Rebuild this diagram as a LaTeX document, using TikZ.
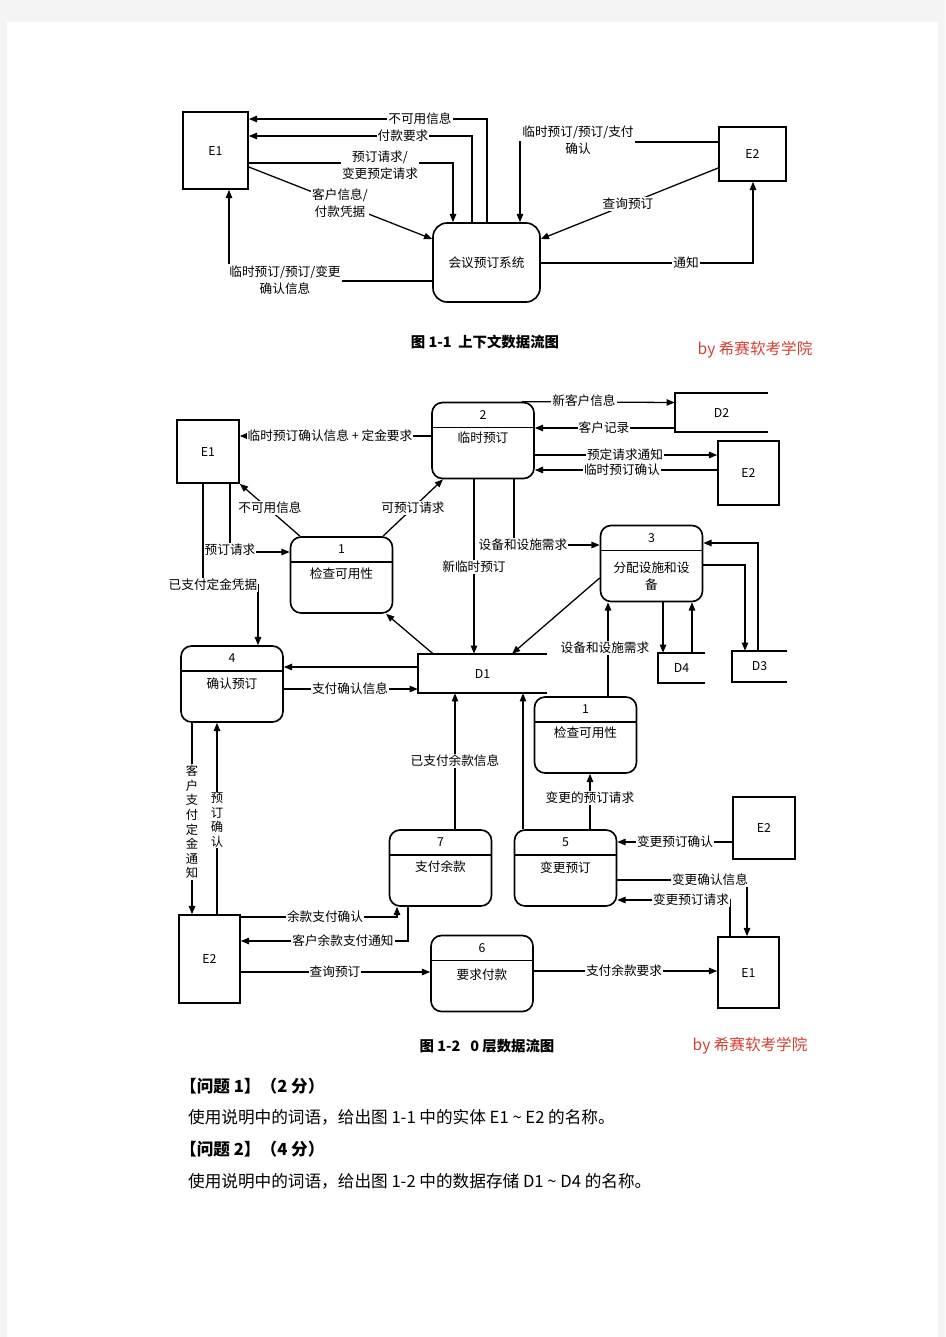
\documentclass[tikz,border=0pt]{standalone}
\usepackage{fontspec}
\setmainfont{Noto Sans CJK SC}
\usetikzlibrary{arrows.meta,calc,positioning}
\definecolor{wmred}{RGB}{214,64,52}
\definecolor{pagegray}{RGB}{244,244,244}

\begin{document}
\begin{tikzpicture}[x=0.03cm,y=-0.03cm,
    arr/.style={line width=1.1pt,-{Triangle[length=7pt,width=5.5pt]}},
    box/.style={line width=1.4pt},
    ent/.style={draw,line width=1.4pt,inner sep=0pt,font=\fontsize{10.5}{12}\selectfont},
    store/.style={inner sep=0pt,font=\fontsize{10.5}{12}\selectfont},
    proc/.style={draw,line width=1.4pt,rounded corners=9pt,minimum width=3.06cm,minimum height=2.28cm,
        path picture={\draw[line width=1.4pt] ([yshift=-0.75cm]path picture bounding box.north west)
            -- ([yshift=-0.75cm]path picture bounding box.north east);}},
    pnum/.style={inner sep=0pt,font=\fontsize{10.5}{12}\selectfont},
    pname/.style={anchor=north,inner sep=1pt,align=center,font=\fontsize{10.8}{14.5}\selectfont},
    lbl/.style={fill=white,inner sep=1pt,align=center,font=\fontsize{10.8}{14.5}\selectfont},
    vlbl/.style={fill=white,inner sep=1pt,align=center,font=\fontsize{10.5}{12.4}\selectfont},
    figcap/.style={font=\fontsize{12.3}{14}\selectfont\bfseries},
    wm/.style={text=wmred,font=\fontsize{13.3}{15}\selectfont},
    qhead/.style={anchor=west,font=\fontsize{14.2}{16}\selectfont\bfseries},
    qtext/.style={anchor=west,font=\fontsize{14.2}{16}\selectfont}]

    \fill[pagegray] (0,0) rectangle (945,1337);
    \fill[white] (7,22) rectangle (938,1337);
    \useasboundingbox (0,0) rectangle (945,1337);

    % figure 1-1
    \node[ent,minimum width=1.95cm,minimum height=2.31cm] (E1) at (215.5,150.5) {E1};
    \node[ent,minimum width=2.01cm,minimum height=1.62cm] (E2) at (752.5,154) {E2};
    \node[draw,box,rounded corners=12pt,minimum width=3.21cm,minimum height=2.37cm,
          font=\fontsize{10.8}{14}\selectfont] (sys) at (486.5,262.5) {会议预订系统};

    \draw[arr] (sys.north -| 487,0) |- (E1.east |- 0,119);
    \draw[arr] (sys.north -| 472,0) |- (E1.east |- 0,136);
    \draw[arr] (E1.east |- 0,163) -| (sys.north -| 453,0);
    \draw[arr] (E1.east |- 0,167) -- (sys.west |- 0,239);
    \draw[arr] (sys.west |- 0,281) -| (E1.south -| 229,0);
    \draw[arr] (E2.west |- 0,142) -| (sys.north -| 520,0);
    \draw[arr] (E2.west |- 0,168) -- (sys.east |- 0,239);
    \draw[arr] (sys.east |- 0,263) -| (E2.south -| 753,0);

    \node[lbl] (unavail) at (420,119) {不可用信息};
    \node[lbl] (payreq) at (403,136) {付款要求};
    \node[lbl] (bookreq) at (380,165) {预订请求/\\变更预定请求};
    \node[lbl] (custinfo) at (340,203) {客户信息/\\付款凭据};
    \node[lbl] (confinfo) at (285,280) {临时预订/预订/变更\\确认信息};
    \node[lbl] (payconf) at (578,140) {临时预订/预订/支付\\确认};
    \node[lbl] (query) at (628,204) {查询预订};
    \node[lbl] (notify) at (686,263) {通知};

    \node[figcap] (cap1) at (485,342) {图 1-1\ \ 上下文数据流图};
    \node[wm] (wm1) at (755,350) {by 希赛软考学院};

    % figure 1-2
    \node[ent,minimum width=1.86cm,minimum height=1.89cm] (E1u) at (208,451.5) {E1};
    \node[ent,minimum width=1.83cm,minimum height=1.92cm] (E2u) at (748.5,473) {E2};
    \node[ent,minimum width=1.86cm,minimum height=1.86cm] (E2m) at (764,828) {E2};
    \node[ent,minimum width=1.83cm,minimum height=2.64cm] (E2d) at (209.5,959) {E2};
    \node[ent,minimum width=1.83cm,minimum height=2.13cm] (E1d) at (748.5,972.5) {E1};

    \node[proc] (p2) at (483,440.5) {};
    \node[pnum] (p2n) at ($(p2.north)+(0,13)$) {2};
    \node[pname] (p2t) at ($(p2.north)+(0,29)$) {临时预订};
    \node[proc] (p3) at (651.5,563.5) {};
    \node[pnum] (p3n) at ($(p3.north)+(0,13)$) {3};
    \node[pname] (p3t) at ($(p3.north)+(0,36)$) {分配设施和设\\备};
    \node[proc] (p1a) at (341.5,575) {};
    \node[pnum] (p1an) at ($(p1a.north)+(0,13)$) {1};
    \node[pname] (p1at) at ($(p1a.north)+(0,30)$) {检查可用性};
    \node[proc] (p4) at (232,684) {};
    \node[pnum] (p4n) at ($(p4.north)+(0,13)$) {4};
    \node[pname] (p4t) at ($(p4.north)+(0,31)$) {确认预订};
    \node[proc] (p1b) at (585.5,735) {};
    \node[pnum] (p1bn) at ($(p1b.north)+(0,13)$) {1};
    \node[pname] (p1bt) at ($(p1b.north)+(0,29)$) {检查可用性};
    \node[proc] (p7) at (440.5,868) {};
    \node[pnum] (p7n) at ($(p7.north)+(0,13)$) {7};
    \node[pname] (p7t) at ($(p7.north)+(0,30)$) {支付余款};
    \node[proc] (p5) at (565.5,868) {};
    \node[pnum] (p5n) at ($(p5.north)+(0,13)$) {5};
    \node[pname] (p5t) at ($(p5.north)+(0,31)$) {变更预订};
    \node[proc] (p6) at (482,973.5) {};
    \node[pnum] (p6n) at ($(p6.north)+(0,13)$) {6};
    \node[pname] (p6t) at ($(p6.north)+(0,33)$) {要求付款};

    \node[store,minimum width=2.79cm,minimum height=1.17cm] (D2) at (721.5,412.5) {D2};
    \node[store,minimum width=3.87cm,minimum height=1.17cm] (D1) at (482.5,673.5) {D1};
    \node[store,minimum width=1.41cm,minimum height=0.9cm] (D4) at (681.5,668) {D4};
    \node[store,minimum width=1.65cm,minimum height=0.93cm] (D3) at (759.5,666.5) {D3};
    \draw[box] (D2.north east) -- (D2.north west) -- (D2.south west) -- (D2.south east);
    \draw[box] (D1.north east) -- (D1.north west) -- (D1.south west) -- (D1.south east);
    \draw[box] (D4.north east) -- (D4.north west) -- (D4.south west) -- (D4.south east);
    \draw[box] (D3.north east) -- (D3.north west) -- (D3.south west) -- (D3.south east);

    \draw[arr] (p2.west |- 0,436) -- (E1u.east |- 0,436);
    \draw[arr] (p2.north -| 522,0) -- (D2.west |- 0,402.5);
    \draw[arr] (D2.west |- 0,428) -- (p2.east |- 0,428);
    \draw[arr] (p2.east |- 0,455) -- (E2u.west |- 0,455);
    \draw[arr] (E2u.west |- 0,470) -- (p2.east |- 0,470);
    \draw[arr] (p2.south -| 474,0) -- (D1.north -| 474,0);
    \draw[arr] (p2.south -| 514,0) |- (p3.west |- 0,545);
    \draw[arr] (p3.west |- 0,578) -- (D1.north -| 512,0);
    \draw[arr] (p1b.north -| 608,0) -- (p3.south -| 608,0);
    \draw[arr] (p3.south -| 663,0) -- (D4.north -| 663,0);
    \draw[arr] (D4.north -| 692,0) -- (p3.south -| 692,0);
    \draw[arr] (p3.east |- 0,565) -| (D3.north -| 745,0);
    \draw[arr] (D3.north -| 758,0) |- (p3.east |- 0,543);
    \draw[arr] (D1.north -| 433,0) -- (p1a.south -| 386,0);
    \draw[arr] (D1.west |- 0,667) -- (p4.east |- 0,667);
    \draw[arr] (p4.east |- 0,689) -- (D1.west |- 0,689);
    \draw[arr] (E1u.south -| 230,0) |- (p1a.west |- 0,552);
    \draw[arr] (p1a.north -| 300,0) -- (E1u.south east);
    \draw[arr] (p1a.north -| 383,0) -- (p2.south -| 443,0);
    \draw[arr] (E1u.south -| 203,0) -- (203,585) -| (p4.north -| 258,0);
    \draw[arr] (p4.south -| 192,0) -- (E2d.north -| 192,0);
    \draw[arr] (E2d.north -| 217,0) -- (p4.south -| 217,0);
    \draw[arr] (p7.north -| 455,0) -- (D1.south -| 455,0);
    \draw[arr] (p5.north -| 523,0) -- (D1.south -| 523,0);
    \draw[arr] (p5.north -| 590,0) -- (p1b.south -| 590,0);
    \draw[arr] (E2m.west |- 0,842) -- (p5.east |- 0,842);
    \draw[arr] (p5.east |- 0,880) -| (E1d.north -| 747,0);
    \draw[arr] (E1d.north -| 730,0) |- (p5.east |- 0,900);
    \draw[arr] (E2d.east |- 0,917) -| (p7.south -| 397,0);
    \draw[arr] (p7.south -| 408,0) |- (E2d.east |- 0,941);
    \draw[arr] (E2d.east |- 0,972) -- (p6.west |- 0,972);
    \draw[arr] (p6.east |- 0,971) -- (E1d.west |- 0,971);

    \node[lbl] (tmpconf) at (330,436) {临时预订确认信息 + 定金要求};
    \node[lbl] (newcust) at (584,401) {新客户信息};
    \node[lbl] (custrec) at (604,428) {客户记录};
    \node[lbl] (reqnote) at (625,455) {预定请求通知};
    \node[lbl] (tmpok) at (622,470) {临时预订确认};
    \node[lbl] (newtmp) at (474,567) {新临时预订};
    \node[lbl] (equip1) at (523,545) {设备和设施需求};
    \node[lbl] (equip2) at (605,648) {设备和设施需求};
    \node[lbl] (unavail2) at (270,508) {不可用信息};
    \node[lbl] (bookable) at (413,508) {可预订请求};
    \node[lbl] (bookreq2) at (230,550) {预订请求};
    \node[lbl] (deposit) at (213,585) {已支付定金凭据};
    \node[lbl] (payok) at (350,689) {支付确认信息};
    \node[lbl] (balinfo) at (455,761) {已支付余款信息};
    \node[lbl] (chgreq) at (590,798) {变更的预订请求};
    \node[lbl] (chgok) at (675,842) {变更预订确认};
    \node[lbl] (chginfo) at (710,880) {变更确认信息};
    \node[lbl] (chgbook) at (691,900) {变更预订请求};
    \node[lbl] (balok) at (325,917) {余款支付确认};
    \node[lbl] (balnote) at (343,941) {客户余款支付通知};
    \node[lbl] (query2) at (335,972) {查询预订};
    \node[lbl] (balreq) at (624,971) {支付余款要求};
    \node[vlbl] (depnote) at (192,822) {客\\户\\支\\付\\定\\金\\通\\知};
    \node[vlbl] (bookok) at (217,820) {预\\订\\确\\认};

    \node[figcap] (cap2) at (487,1046) {图 1-2\ \ \ 0 层数据流图};
    \node[wm] (wm2) at (750,1046) {by 希赛软考学院};

    % questions
    \node[qhead] (q1) at (176,1086) {【问题 1】（2 分）};
    \node[qtext] (q1t) at (184,1117) {使用说明中的词语，给出图 1-1 中的实体 E1 \textasciitilde{} E2 的名称。};
    \node[qhead] (q2) at (176,1149) {【问题 2】（4 分）};
    \node[qtext] (q2t) at (184,1181) {使用说明中的词语，给出图 1-2 中的数据存储 D1 \textasciitilde{} D4 的名称。};
\end{tikzpicture}
\end{document}
